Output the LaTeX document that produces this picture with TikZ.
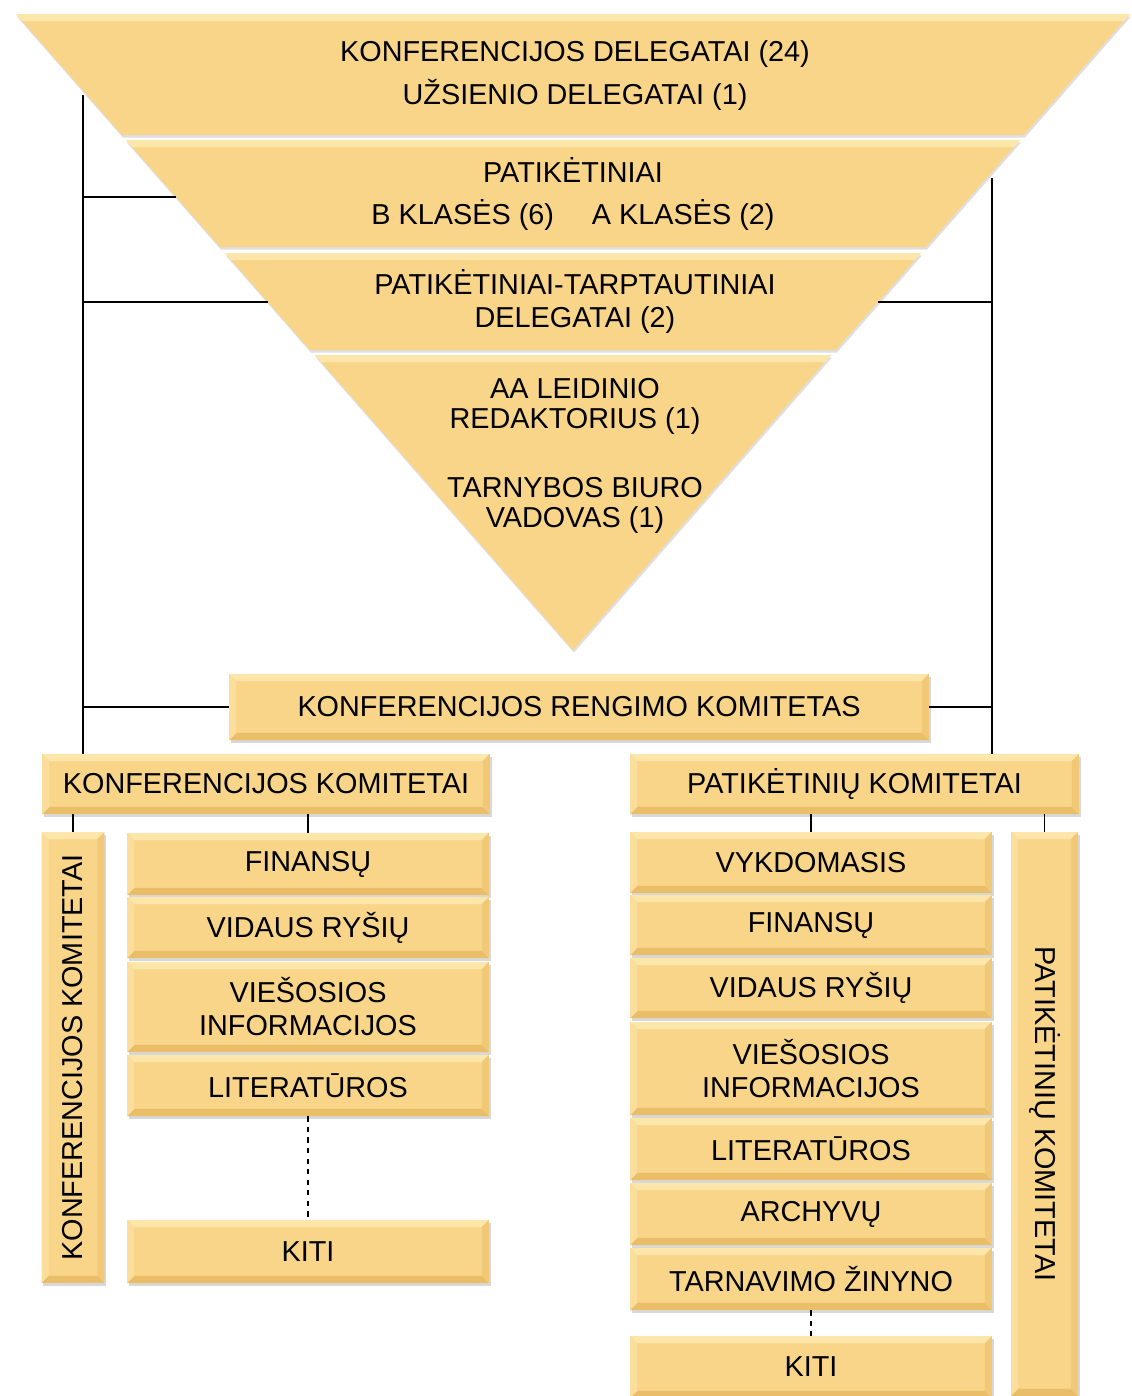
\documentclass[tikz,border=0pt]{standalone}
\usepackage{fontspec}
\usepackage{graphicx}
\setmainfont{Liberation Sans}
\usetikzlibrary{shadows}
\definecolor{boxfill}{RGB}{249,213,137}
\definecolor{boxlight}{RGB}{253,230,170}
\definecolor{boxleft}{RGB}{251,222,156}
\definecolor{boxright}{RGB}{240,200,118}
\definecolor{boxdark}{RGB}{234,190,104}

\begin{document}
\begin{tikzpicture}[x=0.02cm,y=-0.02cm,font=\fontsize{16.4}{18.8}\selectfont,
  bevel/.style={path picture={
    \fill[boxlight] (path picture bounding box.north west) -- (path picture bounding box.north east) -- ([shift={(-4pt,-4pt)}]path picture bounding box.north east) -- ([shift={(4pt,-4pt)}]path picture bounding box.north west) -- cycle;
    \fill[boxdark] (path picture bounding box.south west) -- (path picture bounding box.south east) -- ([shift={(-4pt,4pt)}]path picture bounding box.south east) -- ([shift={(4pt,4pt)}]path picture bounding box.south west) -- cycle;
    \fill[boxleft] (path picture bounding box.north west) -- ([shift={(4pt,-4pt)}]path picture bounding box.north west) -- ([shift={(4pt,4pt)}]path picture bounding box.south west) -- (path picture bounding box.south west) -- cycle;
    \fill[boxright] (path picture bounding box.north east) -- ([shift={(-4pt,-4pt)}]path picture bounding box.north east) -- ([shift={(-4pt,4pt)}]path picture bounding box.south east) -- (path picture bounding box.south east) -- cycle;}},
  tbox/.style={fill=boxfill,inner sep=0pt,align=center,bevel,
    drop shadow={shadow xshift=1pt,shadow yshift=-1.5pt,opacity=.3}},
  stackbox/.style={tbox,minimum width=7.24cm,minimum height=1.22cm},
  band/.style={fill=boxfill,drop shadow={shadow xshift=0.5pt,shadow yshift=-1.5pt,opacity=.25}},
  link/.style={line width=1pt}]

  \fill[white] (0,0) rectangle (1132,1396);
  \useasboundingbox (0,0) rectangle (1132,1396);

  % triangle
  \fill[band] (16,14) -- (1130,14) -- (1024,135) -- (122,135) -- cycle;
  \fill[boxlight] (16,14) -- (1130,14) -- (1124,21) -- (22,21) -- cycle;
  \fill[band] (126,140) -- (1020,140) -- (926,247) -- (220,247) -- cycle;
  \fill[boxlight] (126,140) -- (1020,140) -- (1014,147) -- (132,147) -- cycle;
  \fill[band] (225,253) -- (921,253) -- (836,350) -- (310,350) -- cycle;
  \fill[boxlight] (225,253) -- (921,253) -- (915,260) -- (231,260) -- cycle;
  \fill[band] (315,355) -- (831,355) -- (573,650) -- cycle;
  \fill[boxlight] (315,355) -- (831,355) -- (825,362) -- (321,362) -- cycle;

  \node[align=center] (a1) at (575,76) {KONFERENCIJOS DELEGATAI (24)\\[5.7pt]UŽSIENIO DELEGATAI (1)};
  \node[align=center] (a2) at (573,194) {PATIKĖTINIAI\\[5.1pt]B KLASĖS (6)\hspace{21.6pt}A KLASĖS (2)};
  \node[align=center] (a3) at (575,301) {PATIKĖTINIAI-TARPTAUTINIAI\\DELEGATAI (2)};
  \node[align=center,font=\fontsize{16.4}{17}\selectfont] (a4) at (575,456) {AA LEIDINIO\\REDAKTORIUS (1)\\[22.3pt]TARNYBOS BIURO\\VADOVAS (1)};

  \coordinate (lt) at (83,95);
  \coordinate (rt) at (992,178);
  \coordinate (e2) at (176,197);
  \coordinate (e3) at (268,302);
  \coordinate (e'3) at (878,302);

  % committees
  \node[tbox,minimum width=14cm,minimum height=1.32cm] (kr) at (579,707) {KONFERENCIJOS RENGIMO KOMITETAS};
  \node[tbox,minimum width=8.96cm,minimum height=1.2cm] (kk) at (266,784) {KONFERENCIJOS KOMITETAI};
  \node[tbox,minimum width=8.98cm,minimum height=1.2cm] (pk) at (854.5,784) {PATIKĖTINIŲ KOMITETAI};

  \node[tbox,minimum width=1.26cm,minimum height=9.02cm] (ks) at (73,1057.5) {\rotatebox{90}{KONFERENCIJOS KOMITETAI}};
  \node[tbox,minimum width=1.34cm,minimum height=11.28cm] (ps) at (1044.5,1114) {\rotatebox{-90}{PATIKĖTINIŲ KOMITETAI}};

  \node[stackbox,minimum height=1.24cm] (k1) at (308,864) {FINANSŲ};
  \node[stackbox] (k2) at (308,927.5) {VIDAUS RYŠIŲ};
  \node[stackbox,minimum height=1.8cm] (k3) at (308,1007) {VIEŠOSIOS\\INFORMACIJOS};
  \node[stackbox] (k4) at (308,1085.5) {LITERATŪROS};
  \node[stackbox,minimum height=1.26cm] (k5) at (308,1251.5) {KITI};

  \node[stackbox] (p1) at (811,862.5) {VYKDOMASIS};
  \node[stackbox,minimum height=1.2cm] (p2) at (811,925) {FINANSŲ};
  \node[stackbox,minimum height=1.2cm] (p3) at (811,988) {VIDAUS RYŠIŲ};
  \node[stackbox,minimum height=1.86cm] (p4) at (811,1068.5) {VIEŠOSIOS\\INFORMACIJOS};
  \node[stackbox,minimum height=1.24cm] (p5) at (811,1149) {LITERATŪROS};
  \node[stackbox,minimum height=1.24cm] (p6) at (811,1214) {ARCHYVŲ};
  \node[stackbox,minimum height=1.24cm] (p7) at (811,1279) {TARNAVIMO ŽINYNO};
  \node[stackbox,minimum height=1.24cm] (p8) at (811,1367) {KITI};

  % lines
  \draw[link] (lt) to (lt |- kk.north);
  \draw[link] (lt |- e2) to (e2);
  \draw[link] (lt |- e3) to (e3);
  \draw[link] (lt |- kr.west) to (kr.west);
  \draw[link] (rt) to (rt |- pk.north);
  \draw[link] (e'3) to (rt |- e'3);
  \draw[link] (kr.east) to (rt |- kr.east);

  \draw[link] (ks.north) to (ks.north |- kk.south);
  \draw[link] (k1.north) to (k1.north |- kk.south);
  \draw[link,dashed] (k4.south) to (k5.north);

  \draw[link] (p1.north) to (p1.north |- pk.south);
  \draw[link] (ps.north) to (ps.north |- pk.south);
  \draw[link,dashed] (p7.south) to (p8.north);

\end{tikzpicture}
\end{document}
